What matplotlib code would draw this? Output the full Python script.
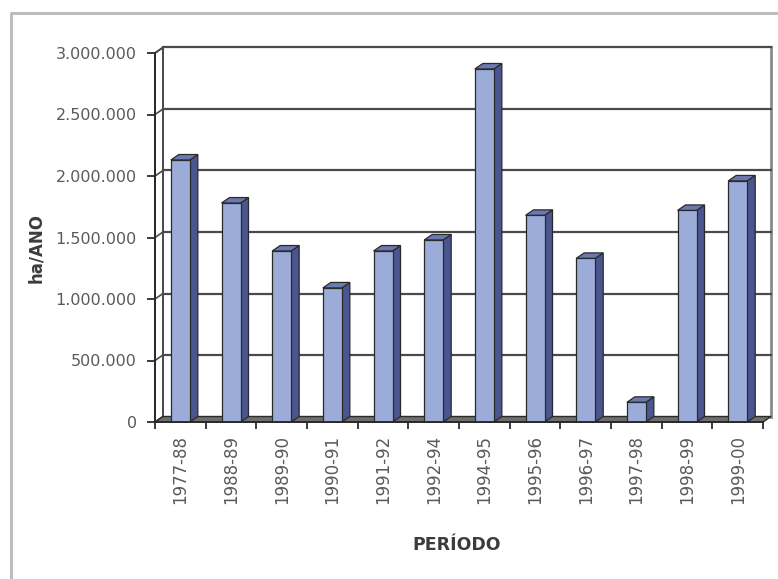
import matplotlib
matplotlib.use("Agg")
import matplotlib.pyplot as plt
from matplotlib.patches import Polygon
from matplotlib.lines import Line2D
import numpy as np

# Area per period (ha/year)
periods = ["1977-88", "1988-89", "1989-90", "1990-91", "1991-92", "1992-94",
           "1994-95", "1995-96", "1996-97", "1997-98", "1998-99", "1999-00"]
area = [2130000, 1780000, 1390000, 1090000, 1390000, 1480000,
        2870000, 1680000, 1330000, 160000, 1720000, 1960000]
y_ticks = [0, 500000, 1000000, 1500000, 2000000, 2500000, 3000000]

W, H = 778, 579
fig = plt.figure(figsize=(W / 100, H / 100), dpi=100)
fig.patch.set_facecolor("white")

# pixel geometry of the plot box
px_cat = 50.67              # pixels per category
px_val = 61.5 / 500000      # pixels per unit of value
dxp, dyp = 8.0, 5.5         # depth offset of the 3-D box, pixels
ddx = dxp / px_cat
ddy = dyp / px_val
ymax = y_ticks[-1]
n = len(periods)

left_px, front0_px = 155, 422
ax_w = (n + ddx) * px_cat
ax_h = (ymax + ddy) * px_val
ax = fig.add_axes([left_px / W, (H - front0_px) / H, ax_w / W, ax_h / H])
ax.set_xlim(-0.5, n - 0.5 + ddx)
ax.set_ylim(0, ymax + ddy)
ax.set_facecolor("none")

x0, x1 = -0.5, n - 0.5
grid_c = "#4a4a4a"
edge_c = "#2a2a2a"

# back wall
ax.add_patch(Polygon([(x0 + ddx, ddy), (x1 + ddx, ddy), (x1 + ddx, ymax + ddy),
                      (x0 + ddx, ymax + ddy)], closed=True, facecolor="white",
                     edgecolor="none", zorder=1, clip_on=False))
ax.add_line(Line2D([x1 + ddx, x1 + ddx], [ddy, ymax + ddy], color="#8a8a8a", lw=2.0,
                   zorder=1.2, clip_on=False))
# side wall
ax.add_patch(Polygon([(x0, 0), (x0 + ddx, ddy), (x0 + ddx, ymax + ddy), (x0, ymax)],
                     closed=True, facecolor="white", edgecolor=edge_c, lw=1.2,
                     zorder=1.5, clip_on=False))
# gridlines on back and side walls
for v in y_ticks[1:]:
    ax.add_line(Line2D([x0 + ddx, x1 + ddx], [v + ddy, v + ddy], color=grid_c, lw=1.6,
                       zorder=2, clip_on=False))
    ax.add_line(Line2D([x0, x0 + ddx], [v, v + ddy], color=grid_c, lw=1.2,
                       zorder=2, clip_on=False))
# floor
ax.add_patch(Polygon([(x0, 0), (x1, 0), (x1 + ddx, ddy), (x0 + ddx, ddy)], closed=True,
                     facecolor="#6e6e6e", edgecolor=edge_c, lw=1.0, zorder=2.5, clip_on=False))

# bars
xs = np.arange(n)
bw = 0.375
front_c, side_c, top_c = "#9cacd9", "#4b5590", "#6b79b2"
ax.bar(xs, area, width=bw, color=front_c, edgecolor=edge_c, lw=0.9, zorder=4)
for x, v in zip(xs, area):
    r, l = x + bw / 2, x - bw / 2
    ax.add_patch(Polygon([(r, 0), (r + ddx, ddy), (r + ddx, v + ddy), (r, v)], closed=True,
                         facecolor=side_c, edgecolor=edge_c, lw=0.9, zorder=3.9, clip_on=False))
    ax.add_patch(Polygon([(l, v), (r, v), (r + ddx, v + ddy), (l + ddx, v + ddy)], closed=True,
                         facecolor=top_c, edgecolor=edge_c, lw=0.9, zorder=3.9, clip_on=False))

# axes lines and ticks
for s in ["top", "right"]:
    ax.spines[s].set_visible(False)
ax.spines["left"].set_bounds(0, ymax)
ax.spines["bottom"].set_bounds(x0, x1)
for s in ["left", "bottom"]:
    ax.spines[s].set_color(edge_c)
    ax.spines[s].set_linewidth(1.4)
    ax.spines[s].set_zorder(5)

ax.set_yticks(y_ticks)
ax.set_yticklabels([f"{v:,.0f}".replace(",", ".") for v in y_ticks])
ax.tick_params(axis="y", direction="out", length=6, width=1.3, color=edge_c,
               pad=7, labelsize=11.5, labelcolor="#5a5a5a")

ax.set_xticks(np.arange(n + 1) - 0.5)
ax.set_xticklabels([])
ax.set_xticks(xs, minor=True)
ax.set_xticklabels(periods, minor=True, rotation=90)
ax.tick_params(axis="x", which="major", direction="out", length=5, width=1.3, color=edge_c)
ax.tick_params(axis="x", which="minor", length=0, pad=9, labelsize=12, labelcolor="#5a5a5a")
for t in ax.get_xticklabels(minor=True):
    t.set_va("top")

# axis titles
fig.text(36 / W, 1 - 248 / H, "ha/ANO", rotation=90, ha="center", va="center",
         fontsize=12, fontweight="bold", color="#3c3c3c")
fig.text(457 / W, 1 - 545 / H, "PERÍODO", ha="center", va="center",
         fontsize=12.5, fontweight="bold", color="#3c3c3c")

# chart-area frame
fig.add_artist(Line2D([11 / W, 11 / W, 1.0], [0.0, 1 - 13 / H, 1 - 13 / H],
                      transform=fig.transFigure, color="#bdbdbd", lw=2.2))

fig.savefig("out.png", dpi=100, facecolor="white")
